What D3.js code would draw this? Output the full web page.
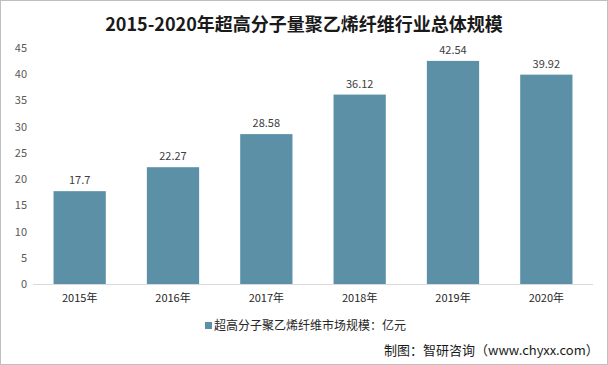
<!DOCTYPE html>
<html><head><meta charset="utf-8">
<script src="https://cdn.jsdelivr.net/npm/d3@7"></script>
<style>body{margin:0;background:#fff}svg{display:block}</style>
</head><body>
<script>
const categories = ["2015年","2016年","2017年","2018年","2019年","2020年"];
const values = [17.7, 22.27, 28.58, 36.12, 42.54, 39.92];
const valueLabels = ["17.7","22.27","28.58","36.12","42.54","39.92"];
const yTicks = [0,5,10,15,20,25,30,35,40,45];
const title = "2015-2020年超高分子量聚乙烯纤维行业总体规模";
const legendLabel = "超高分子聚乙烯纤维市场规模：亿元";
const sourceText = "制图：智研咨询（www.chyxx.com）";

const W = 608, H = 365;
const font = "'Noto Sans CJK SC','Noto Sans',sans-serif";
const svg = d3.select("body").append("svg").attr("width", W).attr("height", H);
svg.append("rect").attr("x",0.5).attr("y",0.5).attr("width",W-1).attr("height",H-1)
  .attr("fill","#fff").attr("stroke","#bfbfbf");

const x = d3.scaleBand().domain(categories).range([33, 593]).paddingInner(0.44).paddingOuter(0.22);
const y = d3.scaleLinear().domain([0,45]).range([284, 48]);

svg.append("text").attr("x", 304).attr("y", 31).attr("text-anchor","middle")
  .attr("font-family", font).attr("font-weight","bold").attr("font-size",18).attr("fill","#1a1a1a").text(title);

const yAxis = svg.append("g").attr("transform","translate(27,0)")
  .call(d3.axisLeft(y).tickValues(yTicks).tickSize(0).tickPadding(0));
yAxis.select(".domain").remove();
yAxis.selectAll("text").attr("font-family", font).attr("font-size",11).attr("fill","#595959");

svg.append("line").attr("x1",33).attr("x2",593).attr("y1",284.5).attr("y2",284.5).attr("stroke","#d9d9d9");

svg.selectAll("rect.bar").data(values).join("rect").attr("class","bar")
  .attr("x",(d,i)=>x(categories[i])).attr("width",x.bandwidth())
  .attr("y",d=>y(d)).attr("height",d=>y(0)-y(d)).attr("fill","#5b90a7");

svg.selectAll("text.val").data(values).join("text").attr("class","val")
  .attr("x",(d,i)=>x(categories[i])+x.bandwidth()/2).attr("y",d=>y(d)-7)
  .attr("text-anchor","middle").attr("font-family",font).attr("font-size",11).attr("fill","#404040")
  .text((d,i)=>valueLabels[i]);

const xAxis = svg.append("g").attr("transform","translate(0,284)")
  .call(d3.axisBottom(x).tickSize(0).tickPadding(10));
xAxis.select(".domain").remove();
xAxis.selectAll("text").attr("font-family",font).attr("font-size",11).attr("fill","#262626");

svg.append("rect").attr("x",205).attr("y",322).attr("width",7).attr("height",7).attr("fill","#5b90a7");
svg.append("text").attr("x",214).attr("y",330).attr("font-family",font).attr("font-size",12).attr("fill","#262626").text(legendLabel);

svg.append("text").attr("x",384).attr("y",355).attr("font-family",font).attr("font-size",13).attr("fill","#1a1a1a").text(sourceText);
</script>
</body></html>
